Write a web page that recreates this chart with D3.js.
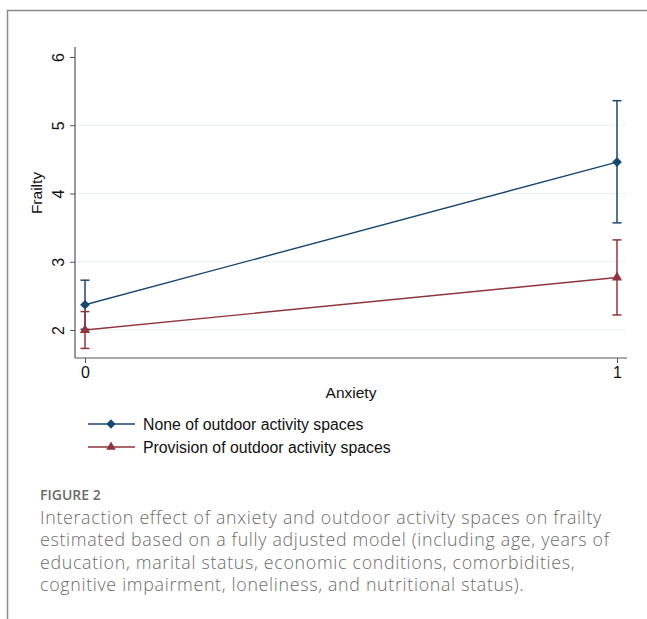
<!DOCTYPE html>
<html>
<head>
<meta charset="utf-8">
<script src="https://cdn.jsdelivr.net/npm/d3@7"></script>
<style>
  html, body { margin: 0; padding: 0; background: #fff; }
  svg { display: block; }
</style>
</head>
<body>
<script>
// Anxiety levels on the x axis
const anxietyLevels = [0, 1];
// Predicted frailty margins with 95% confidence limits
const noneEstimate = [2.37, 4.46];
const noneLower = [2.01, 3.57];
const noneUpper = [2.73, 5.36];
const provisionEstimate = [2.00, 2.77];
const provisionLower = [1.73, 2.22];
const provisionUpper = [2.27, 3.32];
const seriesNames = ["None of outdoor activity spaces", "Provision of outdoor activity spaces"];
const yTicks = [2, 3, 4, 5, 6];
const gridValues = [2, 3, 4, 5];
const captionTitle = "FIGURE 2";
const captionLines = [
  "Interaction effect of anxiety and outdoor activity spaces on frailty",
  "estimated based on a fully adjusted model (including age, years of",
  "education, marital status, economic conditions, comorbidities,",
  "cognitive impairment, loneliness, and nutritional status)."
];

const W = 647, H = 619;
const colors = ["#1a476f", "#90353b"];
const chartFont = "Arial, 'Liberation Sans', sans-serif";
const chartFontSize = 15.5;

const svg = d3.select("body").append("svg").attr("width", W).attr("height", H);

// outer frame (top and left edges)
svg.append("path")
  .attr("d", `M7.5,${H} L7.5,10.5 L${W},10.5`)
  .attr("fill", "none").attr("stroke", "#8a8a8a").attr("stroke-width", 1.5);

const x = d3.scaleLinear().domain([0, 1]).range([85, 617]);
const y = d3.scaleLinear().domain([2, 6]).range([330, 57]);
const plotLeft = 75, plotRight = 627, plotBottom = 358, plotTop = 47;

// horizontal grid lines
svg.append("g").selectAll("line").data(gridValues).join("line")
  .attr("x1", plotLeft).attr("x2", plotRight)
  .attr("y1", d => y(d)).attr("y2", d => y(d))
  .attr("stroke", "#eaf2f3").attr("stroke-width", 1.2);

// y axis
const yAxis = svg.append("g").attr("transform", `translate(${plotLeft},0)`)
  .call(d3.axisLeft(y).tickValues(yTicks).tickSize(5).tickPadding(4).tickFormat(d3.format("d")));
yAxis.select(".domain").attr("d", `M0,${plotTop}V${plotBottom}`).attr("stroke", "#555").attr("stroke-width", 1.2);
yAxis.selectAll(".tick line").attr("stroke", "#555");
yAxis.selectAll(".tick text")
  .attr("font-family", chartFont).attr("font-size", 16).attr("fill", "#111")
  .attr("transform", "rotate(-90)")
  .attr("x", 0).attr("y", -17).attr("dy", "0.35em").attr("text-anchor", "middle");

// x axis
const xAxis = svg.append("g").attr("transform", `translate(0,${plotBottom})`)
  .call(d3.axisBottom(x).tickValues(anxietyLevels).tickSize(5).tickPadding(4).tickFormat(d3.format("d")));
xAxis.select(".domain").attr("d", `M${plotLeft},0H${plotRight}`).attr("stroke", "#555").attr("stroke-width", 1.2);
xAxis.selectAll(".tick line").attr("stroke", "#555");
xAxis.selectAll(".tick text")
  .attr("font-family", chartFont).attr("font-size", 16).attr("fill", "#111");

// axis titles
svg.append("text").attr("transform", "translate(42,193) rotate(-90)")
  .attr("text-anchor", "middle")
  .attr("font-family", chartFont).attr("font-size", chartFontSize).attr("fill", "#111")
  .text("Frailty");
svg.append("text").attr("x", 351).attr("y", 398)
  .attr("text-anchor", "middle")
  .attr("font-family", chartFont).attr("font-size", chartFontSize).attr("fill", "#111")
  .text("Anxiety");

const series = [
  { est: noneEstimate, lo: noneLower, hi: noneUpper, symbol: d3.symbolDiamond2 },
  { est: provisionEstimate, lo: provisionLower, hi: provisionUpper, symbol: d3.symbolTriangle }
];

const line = d3.line().x((d, i) => x(anxietyLevels[i])).y(d => y(d));

series.forEach((s, k) => {
  const g = svg.append("g");
  const c = colors[k];
  // connecting line
  g.append("path").attr("d", line(s.est)).attr("fill", "none").attr("stroke", c).attr("stroke-width", 1.4);
  // confidence interval bars
  anxietyLevels.forEach((a, i) => {
    const cx = x(a);
    g.append("line").attr("x1", cx).attr("x2", cx).attr("y1", y(s.lo[i])).attr("y2", y(s.hi[i]))
      .attr("stroke", c).attr("stroke-width", 1.5);
    [s.lo[i], s.hi[i]].forEach(v => {
      g.append("line").attr("x1", cx - 4.5).attr("x2", cx + 4.5).attr("y1", y(v)).attr("y2", y(v))
        .attr("stroke", c).attr("stroke-width", 1.5);
    });
  });
  // markers
  g.selectAll("path.m").data(s.est).join("path").attr("class", "m")
    .attr("d", d3.symbol().type(s.symbol).size(k === 0 ? 60 : 45))
    .attr("transform", (d, i) => `translate(${x(anxietyLevels[i])},${y(d)})`)
    .attr("fill", c).attr("stroke", "none");
});

// legend
seriesNames.forEach((name, k) => {
  const ly = 424 + k * 23;
  const g = svg.append("g");
  g.append("line").attr("x1", 88).attr("x2", 135).attr("y1", ly).attr("y2", ly)
    .attr("stroke", colors[k]).attr("stroke-width", 1.4);
  g.append("path").attr("d", d3.symbol().type(k === 0 ? d3.symbolDiamond2 : d3.symbolTriangle).size(k === 0 ? 55 : 40))
    .attr("transform", `translate(111,${ly})`).attr("fill", colors[k]);
  g.append("text").attr("x", 143).attr("y", ly).attr("dy", "0.35em")
    .attr("font-family", chartFont).attr("font-size", 15.8).attr("fill", "#111")
    .text(name);
});

// caption
svg.append("text").attr("x", 40).attr("y", 500)
  .attr("font-family", "'Open Sans', sans-serif").attr("font-size", 14).attr("font-weight", 600).attr("fill", "#6b6b6b")
  .text(captionTitle);
svg.append("g").selectAll("text").data(captionLines).join("text")
  .attr("x", 40).attr("y", (d, i) => 524 + i * 22.3)
  .attr("font-family", "'Open Sans', sans-serif").attr("font-size", 17.8).attr("font-weight", 300)
  .attr("letter-spacing", 0.7).attr("fill", "#6b6b6b")
  .text(d => d);
</script>
</body>
</html>
